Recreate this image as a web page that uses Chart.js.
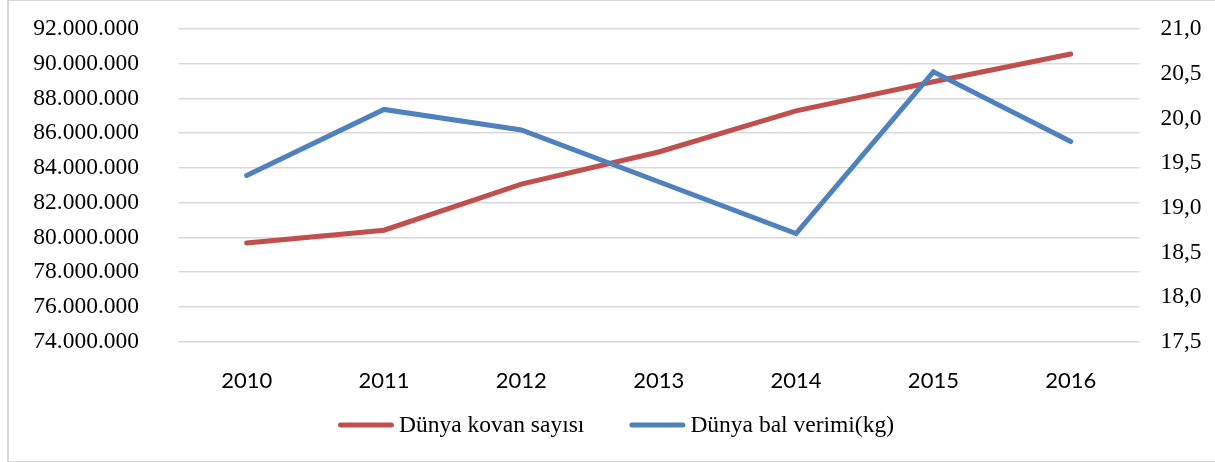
<!DOCTYPE html>
<html>
<head>
<meta charset="utf-8">
<script src="https://cdn.jsdelivr.net/npm/chart.js@4.4.0/dist/chart.umd.min.js"></script>
<style>
  html, body { margin: 0; padding: 0; background: #fff; }
  #wrap { position: relative; width: 1215px; height: 462px; }
  #frame { position: absolute; left: 7px; top: 0; width: 1220px; height: 460px;
           border-left: 2px solid #d9d9d9; border-top: 1px solid #d9d9d9; border-bottom: 1px solid #d9d9d9; }
  #chart { position: absolute; left: 0; top: 0; }
</style>
</head>
<body>
<div id="wrap">
  <div id="frame"></div>
  <canvas id="chart" width="1215" height="462"></canvas>
</div>
<script>
// DATA
let years = ["2010", "2011", "2012", "2013", "2014", "2015", "2016"];
let kovanSayisi = [79680000, 80420000, 83070000, 84920000, 87290000, 88960000, 90560000];
let balVerimi = [19.36, 20.10, 19.87, 19.29, 18.71, 20.52, 19.74];
let seriesNames = ["Dünya kovan sayısı", "Dünya bal verimi(kg)"];
let seriesColors = ["#C0504D", "#4F81BD"];

const serif = "'Liberation Serif', 'Times New Roman', serif";

// legend drawn by hand so the spacing matches the original
const bottomLegend = {
    id: "bottomLegend",
    afterDraw(chart) {
        const ctx = chart.ctx;
        const y = 425, lineLen = 56, gap = 5, itemGap = 45;
        ctx.save();
        ctx.font = "23.5px " + serif;
        ctx.textBaseline = "middle";
        ctx.textAlign = "left";
        const items = chart.data.datasets;
        const widths = items.map(ds => lineLen + gap + ctx.measureText(ds.label).width);
        const total = widths.reduce((a, b) => a + b, 0) + itemGap * (items.length - 1);
        let x = 616 - total / 2;
        items.forEach((ds, i) => {
            ctx.strokeStyle = ds.borderColor;
            ctx.lineWidth = 5;
            ctx.lineCap = "round";
            ctx.beginPath();
            ctx.moveTo(x + 2.5, y);
            ctx.lineTo(x + lineLen - 2.5, y);
            ctx.stroke();
            ctx.fillStyle = "#000";
            ctx.fillText(ds.label, x + lineLen + gap, y + 1);
            x += widths[i] + itemGap;
        });
        ctx.restore();
    },
};

new Chart("chart", {
    type: "line",
    data: {
        labels: years,
        datasets: [
            {
                label: seriesNames[0],
                data: kovanSayisi,
                borderColor: seriesColors[0],
                backgroundColor: seriesColors[0],
                borderWidth: 5,
                borderCapStyle: "round",
                pointRadius: 0,
                tension: 0,
                yAxisID: "y",
                order: 1,
            },
            {
                label: seriesNames[1],
                data: balVerimi,
                borderColor: seriesColors[1],
                backgroundColor: seriesColors[1],
                borderWidth: 5,
                borderCapStyle: "round",
                pointRadius: 0,
                tension: 0,
                yAxisID: "y1",
                order: 0,
            },
        ],
    },
    plugins: [bottomLegend],
    options: {
        responsive: false,
        animation: false,
        layout: { padding: { top: 29, bottom: 0, left: 0, right: 0 } },
        plugins: {
            tooltip: { enabled: false },
            legend: { display: false },
        },
        scales: {
            x: {
                offset: true,
                grid: { display: false },
                border: { display: false },
                ticks: { font: { family: "Lato", size: 22 }, color: "#000", padding: 18 },
                afterFit: (s) => { s.height = 120.3; },
            },
            y: {
                position: "left",
                min: 74000000,
                max: 92000000,
                grid: { color: "#d9d9d9", lineWidth: 1.5, tickLength: 39, tickColor: "transparent" },
                border: { display: false },
                ticks: {
                    stepSize: 2000000,
                    padding: 0,
                    color: "#000",
                    font: { family: serif, size: 23.5 },
                    callback: (v) => v.toString().replace(/\B(?=(\d{3})+(?!\d))/g, "."),
                },
                afterFit: (s) => { s.width = 178; },
            },
            y1: {
                position: "right",
                min: 17.5,
                max: 21,
                grid: { drawOnChartArea: false, tickLength: 21, tickColor: "transparent" },
                border: { display: false },
                ticks: {
                    stepSize: 0.5,
                    padding: 0,
                    color: "#000",
                    font: { family: serif, size: 23.5 },
                    callback: (v) => v.toFixed(1).replace(".", ","),
                },
                afterFit: (s) => { s.width = 75.6; },
            },
        },
    },
});
</script>
</body>
</html>
